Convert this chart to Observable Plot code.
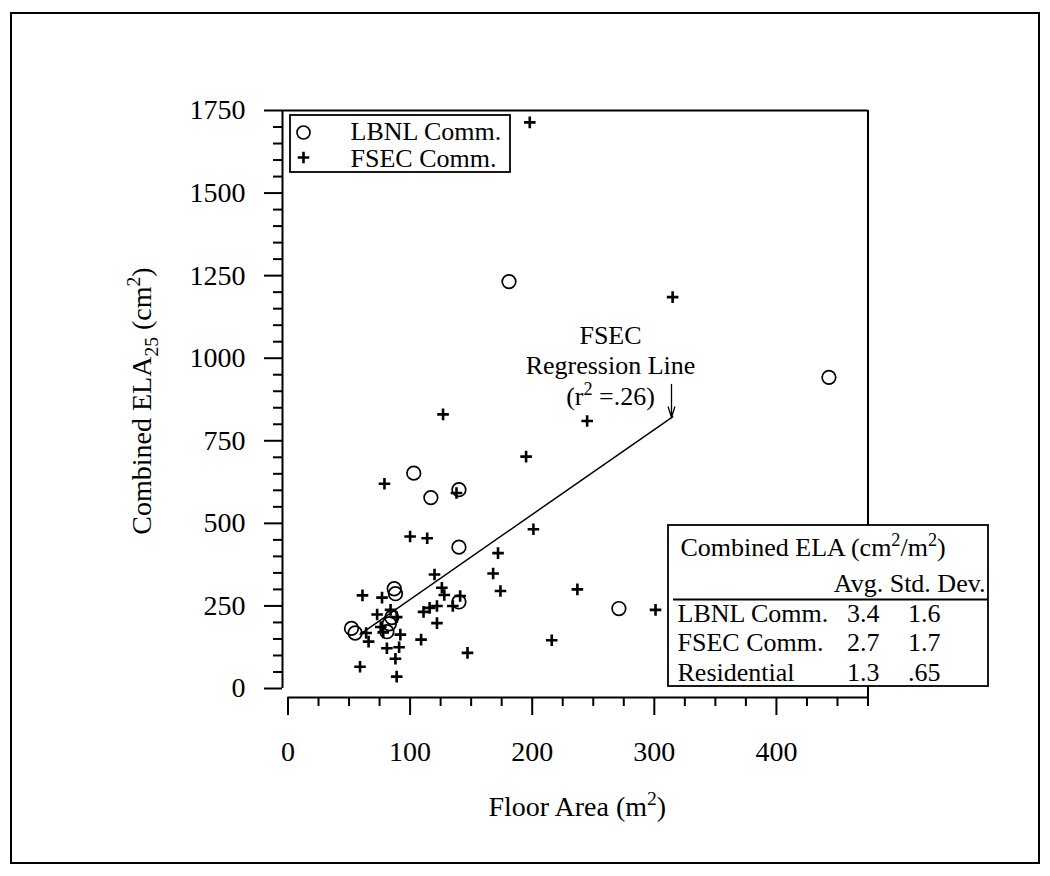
<!DOCTYPE html>
<html><head><meta charset="utf-8">
<script src="https://cdn.jsdelivr.net/npm/d3@7"></script>
<script src="https://cdn.jsdelivr.net/npm/@observablehq/plot@0.6"></script>
<style>
html,body{margin:0;padding:0;background:#fff;}
#wrap{position:relative;width:1050px;height:876px;overflow:hidden;background:#fff;}
#border{position:absolute;left:10px;top:12px;width:1026px;height:848px;border:2px solid #000;pointer-events:none;}
</style></head><body><div id="wrap"><div id="border"></div></div>
<script>
// ---- data ----
const lbnlArea = [52, 55, 81, 83, 85, 87, 88, 103, 117, 140, 140, 140, 181, 271, 443];
const lbnlELA  = [182, 168, 172, 196, 215, 302, 287, 652, 578, 602, 428, 262, 1232, 242, 942];
const fsecArea = [198, 315, 127, 245, 195, 79, 138, 201, 100, 114, 172, 168, 120, 174, 237, 301, 126, 128, 141, 135, 122, 116, 111, 122, 109, 147, 216, 61, 77, 73, 59, 89, 88, 91, 81, 92, 64, 66, 89, 84, 76, 78];
const fsecELA  = [1714, 1185, 830, 810, 702, 620, 592, 482, 460, 455, 410, 348, 345, 295, 300, 238, 305, 283, 280, 250, 250, 244, 232, 198, 148, 108, 146, 282, 275, 224, 66, 36, 90, 125, 122, 163, 168, 142, 216, 238, 186, 170];
const xMajor = [0, 100, 200, 300, 400];
const xMinor = [25, 50, 75, 125, 150, 175, 225, 250, 275, 325, 350, 375, 425, 450, 475];
const yMajor = [0, 250, 500, 750, 1000, 1250, 1500, 1750];
const yMinor = [50, 100, 150, 200, 300, 350, 400, 450, 550, 600, 650, 700, 800, 850, 900, 950, 1050, 1100, 1150, 1200, 1300, 1350, 1400, 1450, 1550, 1600, 1650, 1700];
const legendLabels = ["LBNL Comm.", "FSEC Comm."];
const xLabel = "Floor Area (m^{2})";
const yLabel = "Combined ELA_{25} (cm^{2})";
const noteLines = ["FSEC", "Regression Line", "(r^{2} =.26)"];
const tableTitle = "Combined ELA (cm^{2}/m^{2})";
const tableHeader = "Avg. Std. Dev.";
const tableRows = ["LBNL Comm.", "FSEC Comm.", "Residential"];
const tableAvg = ["3.4", "2.7", "1.3"];
const tableStd = ["1.6", "1.7", ".65"];

const lbnl = lbnlArea.map((a, i) => ({area: a, ela: lbnlELA[i]}));
const fsec = fsecArea.map((a, i) => ({area: a, ela: fsecELA[i]}));

// ---- layout ----
const W = 1050, H = 876;
const ML = 282, MR = 182.5, MT = 110, MB = 179;
const xDomain = [-4.5, 475];
const yDomain = [-27.25, 1750];
const kx = (W - ML - MR) / (xDomain[1] - xDomain[0]);
const ky = (H - MT - MB) / (yDomain[1] - yDomain[0]);
const X = px => xDomain[0] + (px - ML) / kx;
const Y = py => yDomain[1] - (py - MT) / ky;

const plusSym = {draw(ctx, size) { const r = Math.sqrt(size / Math.PI); ctx.moveTo(-r, 0); ctx.lineTo(r, 0); ctx.moveTo(0, -r); ctx.lineTo(0, r); }};
const txt = (s, px, py, o = {}) => Plot.text([s], {x: X(px), y: Y(py), text: d => d, lineAnchor: "bottom", fontSize: 26, fill: "black", ...o});

const plot = Plot.plot({
  width: W, height: H,
  marginLeft: ML, marginRight: MR, marginTop: MT, marginBottom: MB,
  x: {domain: xDomain},
  y: {domain: yDomain},
  style: {fontFamily: "'Liberation Serif', 'Times New Roman', serif", fontSize: "28px", color: "black", background: "white"},
  marks: [
    // frame and axes lines
    Plot.ruleX([xDomain[0]], {y1: 0, y2: 1750, strokeWidth: 2, stroke: "black"}),
    Plot.ruleY([1750], {x1: xDomain[0], x2: 475, strokeWidth: 2, stroke: "black"}),
    Plot.ruleX([475], {y1: yDomain[0], y2: 1750, strokeWidth: 2, stroke: "black"}),
    Plot.ruleY([yDomain[0]], {x1: 0, x2: 475, strokeWidth: 2, stroke: "black"}),
    Plot.axisY({ticks: yMajor, tickSize: 18, tickPadding: 19, tickFormat: d => `${d}`, strokeWidth: 2, label: null, fontSize: 28}),
    Plot.axisY({ticks: yMinor, tickSize: 9, tickFormat: () => "", strokeWidth: 2, label: null}),
    Plot.axisX({ticks: xMajor, tickSize: 18, tickPadding: 26, tickFormat: d => `${d}`, strokeWidth: 2, label: null, fontSize: 28}),
    Plot.axisX({ticks: xMinor, tickSize: 9, tickFormat: () => "", strokeWidth: 2, label: null}),
    // data
    Plot.linearRegressionY(fsec, {x: "area", y: "ela", ci: 0, stroke: "black", strokeWidth: 1.5}),
    Plot.dot(lbnl, {x: "area", y: "ela", r: 6.8, stroke: "black", strokeWidth: 1.7, fill: "none"}),
    Plot.dot(fsec, {x: "area", y: "ela", r: 5.8, symbol: plusSym, stroke: "black", strokeWidth: 2.6, fill: "none"}),
    // legend
    Plot.rect([0], {x1: X(290), x2: X(510), y1: Y(172), y2: Y(115), fill: "white", stroke: "black", strokeWidth: 1.8}),
    Plot.dot([0], {x: X(303), y: Y(132), r: 6.5, stroke: "black", strokeWidth: 1.7, fill: "none"}),
    Plot.dot([0], {x: X(303), y: Y(157), r: 5.8, symbol: plusSym, stroke: "black", strokeWidth: 2.6, fill: "none"}),
    Plot.text(legendLabels, {x: X(350), y: (d, i) => Y(139 + i * 27), text: d => d, textAnchor: "start", lineAnchor: "bottom", fontSize: 26, fill: "black"}),
    // annotation
    Plot.text(noteLines, {x: X(610), y: (d, i) => Y(343 + i * 30.5), text: d => d, textAnchor: "middle", lineAnchor: "bottom", fontSize: 26, fill: "black"}),
    Plot.arrow([0], {x1: X(671), y1: Y(384), x2: X(671), y2: Y(417), headLength: 14, headAngle: 35, strokeWidth: 1.3, stroke: "black"}),
    // table
    Plot.rect([0], {x1: X(668), x2: X(988), y1: Y(686), y2: Y(525), fill: "white", stroke: "black", strokeWidth: 1.8}),
    txt(tableTitle, 680, 555, {textAnchor: "start"}),
    txt(tableHeader, 985, 591, {textAnchor: "end"}),
    Plot.ruleY([Y(599)], {x1: X(673), x2: X(988), stroke: "black", strokeWidth: 2}),
    Plot.text(tableRows, {x: X(677), y: (d, i) => Y(621 + i * 29.5), text: d => d, textAnchor: "start", lineAnchor: "bottom", fontSize: 26, fill: "black"}),
    Plot.text(tableAvg, {x: X(879), y: (d, i) => Y(621 + i * 29.5), text: d => d, textAnchor: "end", lineAnchor: "bottom", fontSize: 26, fill: "black"}),
    Plot.text(tableStd, {x: X(940), y: (d, i) => Y(621 + i * 29.5), text: d => d, textAnchor: "end", lineAnchor: "bottom", fontSize: 26, fill: "black"}),
    // axis titles
    Plot.text([xLabel], {frameAnchor: "bottom", dx: 2, dy: 118, text: d => d, textAnchor: "middle", lineAnchor: "bottom", fontSize: 28, fill: "black"}),
    Plot.text([yLabel], {frameAnchor: "left", dx: -132, dy: -3, rotate: -90, text: d => d, textAnchor: "middle", lineAnchor: "bottom", fontSize: 28, fill: "black"})
  ]
});
document.getElementById("wrap").prepend(plot);

// rich text: ^{...} superscript, _{...} subscript
function richify(root) {
  root.querySelectorAll("text").forEach(t => {
    const s = t.textContent;
    if (!/[_^]\{/.test(s) || t.querySelector("tspan")) return;
    const fs = parseFloat(getComputedStyle(t).fontSize) || 26;
    while (t.firstChild) t.removeChild(t.firstChild);
    const parts = [];
    const re = /([_^])\{([^}]*)\}/g;
    let last = 0, m;
    while ((m = re.exec(s))) {
      if (m.index > last) parts.push({t: s.slice(last, m.index), mode: 0});
      parts.push({t: m[2], mode: m[1] === "^" ? 1 : -1});
      last = re.lastIndex;
    }
    if (last < s.length) parts.push({t: s.slice(last), mode: 0});
    let cur = 0;
    for (const p of parts) {
      const ts = document.createElementNS("http://www.w3.org/2000/svg", "tspan");
      const target = p.mode === 1 ? -0.38 * fs : p.mode === -1 ? 0.26 * fs : 0;
      if (target !== cur) ts.setAttribute("dy", (target - cur).toFixed(2));
      cur = target;
      if (p.mode !== 0) ts.setAttribute("font-size", (0.7 * fs).toFixed(1));
      ts.textContent = p.t;
      t.appendChild(ts);
    }
  });
}
richify(plot);
</script></body></html>
